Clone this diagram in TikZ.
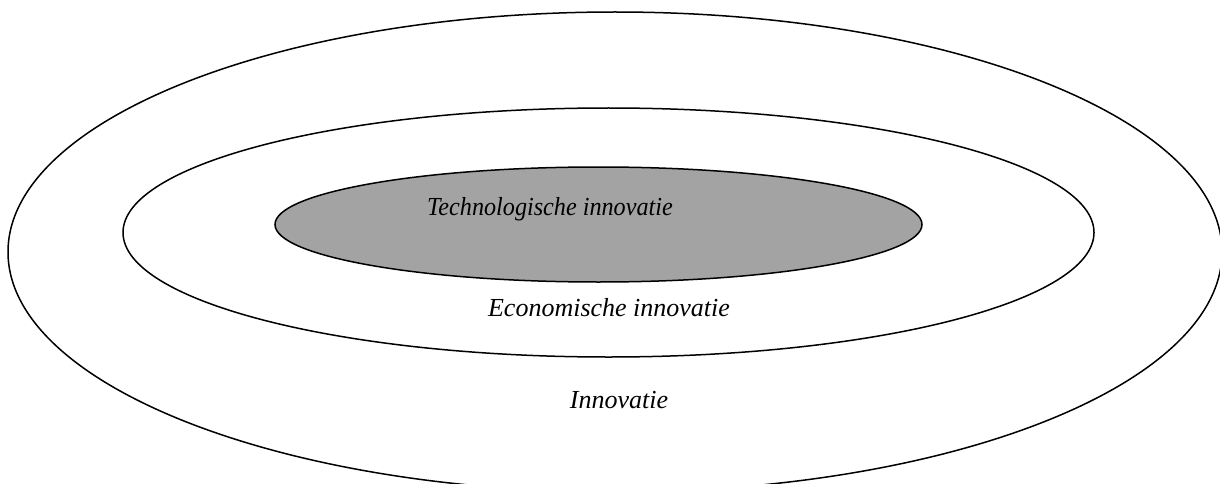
\documentclass[tikz,border=0pt]{standalone}
\usepackage{fontspec}
\setmainfont{Liberation Serif}
\tikzset{
  ring/.style={draw=black, line width=1.5pt},
  lab/.style={inner sep=0pt, font=\fontsize{26}{30}\selectfont\itshape}
}
\begin{document}
\begin{tikzpicture}[x=1pt,y=-1pt]
\useasboundingbox[fill=white] (0,0) rectangle (1220,484);
\clip (0,0) rectangle (1220,484);
\draw[ring] (615,252) ellipse [x radius=607pt, y radius=240pt];
\draw[ring] (608.5,232.5) ellipse [x radius=485.5pt, y radius=124.5pt];
\draw[ring, fill=black!36] (598.5,224.5) ellipse [x radius=323.5pt, y radius=57.5pt];
\node[lab, xscale=0.93] (tech) at (550,209) {Technologische innovatie};
\node[lab] (econ) at (609,308) {Economische innovatie};
\node[lab] (inno) at (619,400) {Innovatie};
\end{tikzpicture}
\end{document}
